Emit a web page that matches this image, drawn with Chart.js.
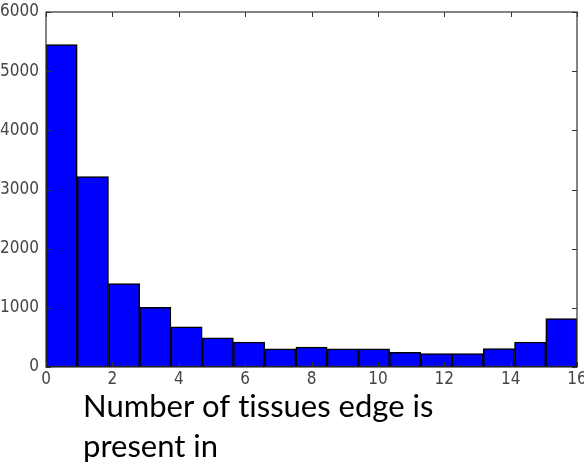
<!DOCTYPE html>
<html>
<head>
<meta charset="utf-8">
<script src="https://cdn.jsdelivr.net/npm/chart.js@4"></script>
<style>
html,body{margin:0;padding:0;background:#fff;}
#wrap{position:relative;width:584px;height:468px;}
</style>
</head>
<body>
<div id="wrap"><canvas id="c" width="584" height="468"></canvas></div>
<script>
// Histogram: number of tissues an edge is present in (values 0..16, 17 bins over [0,16])
const binValues = [0,1,2,3,4,5,6,7,8,9,10,11,12,13,14,15,16];
const counts = [5450,3220,1410,1010,680,495,420,305,335,305,305,250,225,225,310,420,820];
const xRange = [0,16];
const xTicks = [0,2,4,6,8,10,12,14,16];
const yTicks = [0,1000,2000,3000,4000,5000,6000];
const axisLabelLines = ["Number of tissues edge is", "present in"];

const binWidth = (xRange[1]-xRange[0]) / binValues.length;
const points = binValues.map((v,i)=>({x: xRange[0] + (i+0.5)*binWidth, y: counts[i]}));

const tickFont = {family:'"DejaVu Sans Condensed", "DejaVu Sans", sans-serif', size:17};

const frameTicks = {
  id:'frameTicks',
  afterDatasetsDraw(chart){
    const {ctx, chartArea:a, scales:{x,y}} = chart;
    ctx.save();
    ctx.strokeStyle = '#333';
    ctx.lineWidth = 1;
    ctx.beginPath();
    xTicks.forEach(t=>{
      const px = Math.round(x.getPixelForValue(t))+0.5;
      ctx.moveTo(px,a.bottom); ctx.lineTo(px,a.bottom-5);
      ctx.moveTo(px,a.top); ctx.lineTo(px,a.top+5);
    });
    yTicks.forEach(t=>{
      const py = Math.round(y.getPixelForValue(t))+0.5;
      ctx.moveTo(a.left,py); ctx.lineTo(a.left+5,py);
      ctx.moveTo(a.right,py); ctx.lineTo(a.right-5,py);
    });
    ctx.stroke();
    ctx.lineWidth = 1.2;
    ctx.strokeRect(a.left, a.top, a.right-a.left, a.bottom-a.top);
    ctx.restore();
  },
  afterDraw(chart){
    const ctx = chart.ctx;
    ctx.save();
    ctx.fillStyle = '#000';
    ctx.font = '31px Lato';
    try { ctx.textRendering = 'optimizeSpeed'; } catch(e) {}
    ctx.textBaseline = 'alphabetic';
    ctx.textAlign = 'left';
    ctx.fillText(axisLabelLines[0], 83, 417);
    ctx.fillText(axisLabelLines[1], 83, 457);
    ctx.restore();
  }
};

new Chart(document.getElementById('c'), {
  type:'bar',
  data:{datasets:[{
    data: points,
    backgroundColor:'#0000ff',
    borderColor:'#000',
    borderWidth:1.5,
    barPercentage:1,
    categoryPercentage:1,
    borderSkipped:false
  }]},
  options:{
    responsive:false,
    animation:false,
    events:[],
    layout:{padding:{left:0,top:12,right:7,bottom:81}},
    plugins:{legend:{display:false},tooltip:{enabled:false},title:{display:false}},
    scales:{
      x:{
        type:'linear',
        min:xRange[0], max:xRange[1],
        offset:false,
        afterBuildTicks(s){ s.ticks = xTicks.map(v=>({value:v})); },
        afterFit(s){ s.height = 20; s.paddingLeft = 0; s.paddingRight = 0; },
        grid:{display:false, drawTicks:false},
        border:{display:false},
        ticks:{color:'#444', font:tickFont, padding:2, maxRotation:0, autoSkip:false,
               callback:(v)=>String(v)}
      },
      y:{
        min:0, max:6000,
        afterBuildTicks(s){ s.ticks = yTicks.map(v=>({value:v})); },
        afterFit(s){ s.width = 46; s.paddingTop = 0; s.paddingBottom = 0; },
        grid:{display:false, drawTicks:false},
        border:{display:false},
        ticks:{color:'#444', font:tickFont, padding:7, callback:(v)=>String(v)}
      }
    }
  },
  plugins:[frameTicks]
});
</script>
</body>
</html>
